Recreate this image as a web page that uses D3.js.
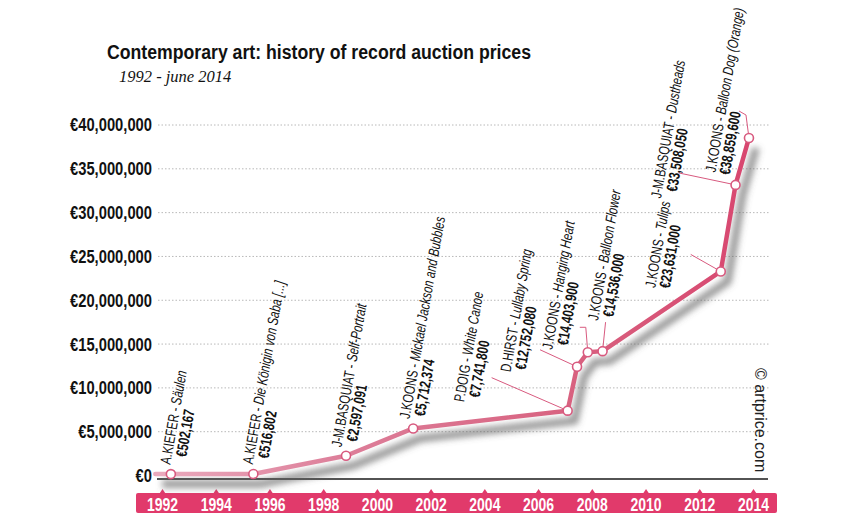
<!DOCTYPE html>
<html><head><meta charset="utf-8">
<script src="https://cdn.jsdelivr.net/npm/d3@7"></script>
<style>body{margin:0;background:#fff;} svg{display:block;}</style>
</head><body>
<svg id="c" width="865" height="526"></svg>
<script>
// ---------- DATA ----------
const artists = ["A.KIEFER","A.KIEFER","J-M.BASQUIAT","J.KOONS","P.DOIG","D.HIRST","J.KOONS","J.KOONS","J.KOONS","J-M.BASQUIAT","J.KOONS"];
const works = ["Säulen","Die Königin von Saba [...]","Self-Portrait","Mickael Jackson and Bubbles","White Canoe","Lullaby Spring","Hanging Heart","Balloon Flower","Tulips","Dustheads","Balloon Dog (Orange)"];
const saleYears = [1992.33, 1995.4, 1998.85, 2001.35, 2007.1, 2007.45, 2007.85, 2008.4, 2012.8, 2013.35, 2013.85];
const prices = [502167, 516802, 2597091, 5712374, 7741800, 12752080, 14403900, 14536000, 23631000, 33508050, 38859600];
const lineStartYear = 1991.75;
const yTickValues = [0, 5000000, 10000000, 15000000, 20000000, 25000000, 30000000, 35000000, 40000000];
const xTickYears = [1992, 1994, 1996, 1998, 2000, 2002, 2004, 2006, 2008, 2010, 2012, 2014];
const titleText = "Contemporary art: history of record auction prices";
const subtitleText = "1992 - june 2014";
const creditText = "© artprice.com";

// ---------- LAYOUT (label placement relative to each point) ----------
const labelLayout = [
  {dx:-5, dy:-10, vx:10}, {dx:-5, dy:-10, vx:8.5}, {dx:-9, dy:-9, vx:8}, {dx:-8, dy:-10, vx:5},
  {dx:-108, dy:-9, vx:7}, {dx:-71, dy:5, vx:5}, {dx:-40, dy:-3, vx:7}, {dx:-9, dy:-31, vx:6},
  {dx:-70, dy:16, vx:2}, {dx:-79, dy:13, vx:9}, {dx:-38, dy:34, vx:0}
];
const leaderLayout = [null,null,null,null,
  [[-76,-33],[0,0]], [[-37,-17],[0,0]], [[-8,-25],[-2,-25],[0,0]], [[3,-29],[0,0]],
  [[-30,-17],[0,0]], [[-57,-12],[0,0]], [[-10,-27],[-3,-23],[0,0]]
];

const pink = "#d85a7f", band = "#e13a6b";
const cond = "'Liberation Sans', Arial, sans-serif";
const sx = 0.74;
const svg = d3.select("#c");

const x = d3.scaleLinear().domain([1992, 2014]).range([162, 753]);
const y = d3.scaleLinear().domain([0, 40000000]).range([475.5, 125]);
const lineDrop = 3;

const defs = svg.append("defs");
defs.append("filter").attr("id","sh").attr("x","-20%").attr("y","-20%").attr("width","140%").attr("height","140%")
  .append("feGaussianBlur").attr("stdDeviation", 3.2);
const grad = defs.append("linearGradient").attr("id","lg").attr("gradientUnits","userSpaceOnUse")
  .attr("x1", x(1992)).attr("x2", x(2014)).attr("y1",0).attr("y2",0);
grad.append("stop").attr("offset","0%").attr("stop-color","#eaa9bc");
grad.append("stop").attr("offset","30%").attr("stop-color","#dd7f9a");
grad.append("stop").attr("offset","70%").attr("stop-color","#d8617f");
grad.append("stop").attr("offset","100%").attr("stop-color","#d8466f");

// title
svg.append("text").attr("x",107).attr("y",59).text(titleText)
  .attr("font-family", cond).attr("font-weight","bold").attr("font-size",19.5)
  .attr("textLength",424).attr("lengthAdjust","spacingAndGlyphs").attr("fill","#111");
svg.append("text").attr("x",119).attr("y",82).text(subtitleText)
  .attr("font-family","'Liberation Serif', 'Times New Roman', serif").attr("font-style","italic")
  .attr("font-size",16.5).attr("fill","#111");

// gridlines
svg.append("g").selectAll("line").data(yTickValues.filter(v => v > 0)).join("line")
  .attr("x1",158).attr("x2",770).attr("y1", d => y(d)).attr("y2", d => y(d))
  .attr("stroke","#b8b8b8").attr("stroke-width",1).attr("stroke-dasharray","1.5,2");

// y axis labels
const yAx = svg.append("g").attr("transform","translate(152,0)")
  .call(d3.axisLeft(y).tickValues(yTickValues).tickSize(0).tickPadding(0).tickFormat(d => "€" + d3.format(",")(d)));
yAx.select(".domain").remove();
yAx.selectAll("text").attr("font-family", cond).attr("font-weight","bold").attr("font-size",18)
  .attr("fill","#111").attr("x",0).attr("dy","0.33em").attr("transform","scale(0.82,1)");

// baseline
svg.append("line").attr("x1",157).attr("x2",768).attr("y1", y(0)+3.5).attr("y2", y(0)+3.5)
  .attr("stroke","#1a1a1a").attr("stroke-width",1.3);

// x axis band
svg.append("rect").attr("x",136).attr("y",493).attr("width",641).attr("height",20).attr("rx",2).attr("fill",band);
const xAx = svg.append("g").attr("transform","translate(0,493)")
  .call(d3.axisBottom(x).tickValues(xTickYears).tickSize(0).tickPadding(0).tickFormat(d3.format("d")));
xAx.select(".domain").remove();
xAx.selectAll(".tick").append("path").attr("d","M-3,0.5L0,-4L3,0.5Z").attr("fill",band);
xAx.selectAll("text").attr("font-family", cond).attr("font-weight","bold").attr("font-size",17.5)
  .attr("fill","#fff").attr("y",18).attr("dy",0).attr("transform","scale(0.8,1)");

// data points in pixels
const pts = saleYears.map((yr,i) => [x(yr), y(prices[i]) + lineDrop]);
const linePts = [[x(lineStartYear), y(prices[0]) + lineDrop]].concat(pts);
const lineGen = d3.line();

// shadow
svg.append("path").attr("d", lineGen(linePts)).attr("fill","none")
  .attr("stroke","#5f5f5f").attr("stroke-width",8).attr("stroke-opacity",0.62)
  .attr("stroke-linejoin","round").attr("transform","translate(7,10)").attr("filter","url(#sh)");

// leaders
const lg = svg.append("g");
leaderLayout.forEach((ld,i) => {
  if (!ld) return;
  lg.append("path").attr("d", d3.line()(ld.map(p => [pts[i][0]+p[0], pts[i][1]+p[1]])))
    .attr("fill","none").attr("stroke", pink).attr("stroke-width",1);
});

// line
svg.append("path").attr("d", lineGen(linePts)).attr("fill","none")
  .attr("stroke","url(#lg)").attr("stroke-width",4.5).attr("stroke-linejoin","round").attr("stroke-linecap","round");

// points
svg.append("g").selectAll("circle").data(pts).join("circle")
  .attr("cx", d => d[0]).attr("cy", d => d[1]).attr("r",4.5)
  .attr("fill","#fff").attr("stroke", pink).attr("stroke-width",1.6);

// labels
const lab = svg.append("g").selectAll("g").data(pts).join("g")
  .attr("transform", (d,i) => `translate(${d[0]+labelLayout[i].dx},${d[1]+labelLayout[i].dy}) rotate(-80) scale(${sx},1)`);
lab.each(function(d,i){
  const g = d3.select(this);
  const t1 = g.append("text").attr("x",0).attr("y",4.5).attr("font-family",cond).attr("font-size",15).attr("fill","#111");
  t1.append("tspan").text(artists[i] + " - ");
  t1.append("tspan").attr("font-style","italic").text(works[i]);
  g.append("text").attr("x", labelLayout[i].vx/sx).attr("y",19).attr("font-family",cond)
    .attr("font-weight","bold").attr("font-size",15.5).attr("fill","#111")
    .text("€" + d3.format(",")(prices[i]));
});

// credit
svg.append("text").attr("transform","translate(755,368) rotate(90)").text(creditText)
  .attr("font-family","'Liberation Sans', Arial, sans-serif").attr("font-size",16).attr("fill","#222");
</script>
</body></html>
